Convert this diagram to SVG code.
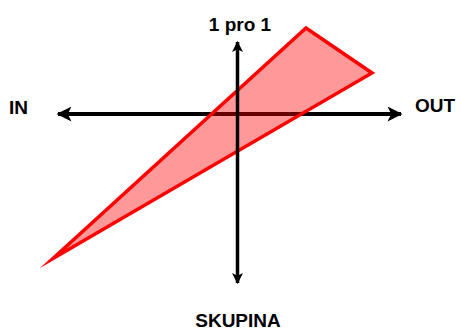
<svg xmlns="http://www.w3.org/2000/svg" width="461" height="331" viewBox="0 0 461 331">
  <style>
    .lbl { font-family: "Liberation Sans", Arial, sans-serif; font-weight: bold; font-size: 19px; fill: #000; }
    .axis { stroke: #000; fill: none; }
  </style>
  <defs>
    <marker id="ah" viewBox="0 0 10 10" refX="9" refY="5" markerUnits="userSpaceOnUse" markerWidth="16" markerHeight="15" orient="auto-start-reverse">
      <path d="M0,0 L10,5 L0,10 L2.5,5 Z" fill="#000"/>
    </marker>
    <marker id="av" viewBox="0 0 10 10" refX="9" refY="5" markerUnits="userSpaceOnUse" markerWidth="12" markerHeight="11" orient="auto-start-reverse">
      <path d="M0,0 L10,5 L0,10 L2.5,5 Z" fill="#000"/>
    </marker>
  </defs>
  <g id="connectors">
    <line id="horizontal-axis" class="axis" x1="58" y1="114" x2="401" y2="114" stroke-width="4" marker-start="url(#ah)" marker-end="url(#ah)"/>
  </g>
  <g id="triangle">
    <polygon points="306,28 372,73 53,258.5" fill="#ff0000" fill-opacity="0.4" stroke="#ff0000" stroke-width="3.5" stroke-linejoin="miter" stroke-miterlimit="20"/>
  </g>
  <g id="connectors-top">
    <line id="vertical-axis" class="axis" x1="237.5" y1="42" x2="237.5" y2="283" stroke-width="3.5" marker-start="url(#av)" marker-end="url(#av)"/>
  </g>
  <g id="node-in"><text class="lbl" x="9" y="114">IN</text></g>
  <g id="node-out"><text class="lbl" x="415" y="112">OUT</text></g>
  <g id="node-1pro1"><text class="lbl" x="240" y="31" text-anchor="middle">1 pro 1</text></g>
  <g id="node-skupina"><text class="lbl" x="238" y="327" text-anchor="middle">SKUPINA</text></g>
</svg>
